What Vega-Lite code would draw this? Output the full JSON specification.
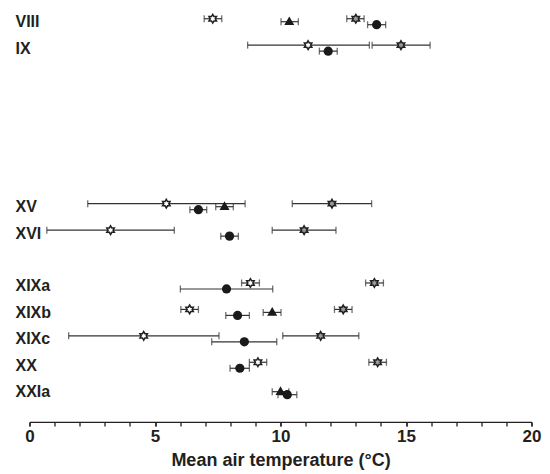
{
  "$schema": "https://vega.github.io/schema/vega-lite/v6.json",
  "autosize": {"type": "none"},
  "width": 502,
  "height": 396.4,
  "padding": {"left": 29.5, "top": 5.5, "right": 18.5, "bottom": 72.1},
  "config": {
    "view": {"stroke": null},
    "font": "Liberation Sans",
    "axisX": {
      "labelOverlap": false,
      "labelFlush": false,
      "grid": false,
      "domainColor": "#231f20",
      "domainWidth": 1.3,
      "tickColor": "#231f20",
      "tickWidth": 1.3,
      "tickSize": 4,
      "labelPadding": 3,
      "labelFont": "Liberation Sans",
      "labelFontWeight": "bold",
      "labelFontSize": 17,
      "labelColor": "#231f20",
      "titleFont": "Liberation Sans",
      "titleFontWeight": "bold",
      "titleFontSize": 18,
      "titleColor": "#231f20",
      "titlePadding": 7
    }
  },
  "resolve": {"axis": {"x": "independent"}},
  "data": {
    "values": [
      {"site": "VIII", "series": "open star", "mean": 7.3, "lo": 6.96, "hi": 7.66},
      {"site": "VIII", "series": "triangle", "mean": 10.35, "lo": 10.02, "hi": 10.71},
      {"site": "VIII", "series": "grey star", "mean": 13.0, "lo": 12.64, "hi": 13.33},
      {"site": "VIII", "series": "circle", "mean": 13.83, "lo": 13.47, "hi": 14.19},
      {"site": "IX", "series": "open star", "mean": 11.1, "lo": 8.69, "hi": 13.54},
      {"site": "IX", "series": "grey star", "mean": 14.8, "lo": 13.65, "hi": 15.96},
      {"site": "IX", "series": "circle", "mean": 11.9, "lo": 11.55, "hi": 12.26},
      {"site": "XV", "series": "open star", "mean": 5.45, "lo": 2.32, "hi": 8.59},
      {"site": "XV", "series": "circle", "mean": 6.73, "lo": 6.39, "hi": 7.06},
      {"site": "XV", "series": "triangle", "mean": 7.77, "lo": 7.42, "hi": 8.12},
      {"site": "XV", "series": "grey star", "mean": 12.05, "lo": 10.47, "hi": 13.63},
      {"site": "XVI", "series": "open star", "mean": 3.23, "lo": 0.69, "hi": 5.77},
      {"site": "XVI", "series": "circle", "mean": 7.97, "lo": 7.62, "hi": 8.32},
      {"site": "XVI", "series": "grey star", "mean": 10.94, "lo": 9.67, "hi": 12.21},
      {"site": "XIXa", "series": "open star", "mean": 8.8, "lo": 8.45, "hi": 9.16},
      {"site": "XIXa", "series": "circle", "mean": 7.85, "lo": 6.01, "hi": 9.69},
      {"site": "XIXa", "series": "grey star", "mean": 13.74, "lo": 13.39, "hi": 14.1},
      {"site": "XIXb", "series": "open star", "mean": 6.38, "lo": 6.03, "hi": 6.73},
      {"site": "XIXb", "series": "circle", "mean": 8.29, "lo": 7.82, "hi": 8.76},
      {"site": "XIXb", "series": "triangle", "mean": 9.67, "lo": 9.31, "hi": 10.02},
      {"site": "XIXb", "series": "grey star", "mean": 12.5, "lo": 12.15, "hi": 12.85},
      {"site": "XIXc", "series": "open star", "mean": 4.55, "lo": 1.56, "hi": 7.55},
      {"site": "XIXc", "series": "circle", "mean": 8.56, "lo": 7.26, "hi": 9.85},
      {"site": "XIXc", "series": "grey star", "mean": 11.6, "lo": 10.09, "hi": 13.12},
      {"site": "XX", "series": "open star", "mean": 9.1, "lo": 8.76, "hi": 9.45},
      {"site": "XX", "series": "circle", "mean": 8.38, "lo": 7.99, "hi": 8.76},
      {"site": "XX", "series": "grey star", "mean": 13.87, "lo": 13.52, "hi": 14.22},
      {"site": "XXIa", "series": "triangle", "mean": 10.0, "lo": 9.67, "hi": 10.33},
      {"site": "XXIa", "series": "circle", "mean": 10.27, "lo": 9.9, "hi": 10.65}
    ]
  },
  "encoding": {
    "y": {
      "field": "site",
      "type": "ordinal",
      "scale": {
        "type": "point",
        "padding": 0.5,
        "domain": ["VIII", "IX", "X", "XI", "XII", "XIII", "XIV", "XV", "XVI", "XVII", "XIXa", "XIXb", "XIXc", "XX", "XXIa"]
      },
      "axis": {
        "title": null,
        "domain": false,
        "ticks": false,
        "tickSize": 0,
        "grid": false,
        "labelAlign": "left",
        "labelPadding": 14.5,
        "labelOffset": 3,
        "labelFont": "Liberation Sans",
        "labelFontWeight": "bold",
        "labelFontSize": 16,
        "labelColor": "#231f20",
        "labelExpr": "indexof(['VIII','IX','XV','XVI','XIXa','XIXb','XIXc','XX','XXIa'], datum.value) >= 0 ? datum.value : ''"
      }
    }
  },
  "layer": [
    {
      "transform": [{"filter": {"field": "series", "oneOf": ["open star", "grey star"]}}],
      "mark": {"type": "rule", "color": "#333333", "strokeWidth": 1.2},
      "encoding": {
        "x": {
          "field": "lo",
          "type": "quantitative",
          "scale": {"domain": [0, 20], "nice": false},
          "axis": {
            "orient": "bottom",
            "title": null,
            "values": [0,1,2,3,4,5,6,7,8,9,10,11,12,13,14,15,16,17,18,19,20],
            "labels": false,
            "offset": 20
          }
        },
        "x2": {"field": "hi"}
      }
    },
    {
      "transform": [{"filter": "datum.series === 'triangle'"}],
      "mark": {"type": "rule", "color": "#333333", "strokeWidth": 1.2, "yOffset": 3},
      "encoding": {
        "x": {
          "field": "lo",
          "type": "quantitative",
          "axis": {
            "orient": "bottom",
            "title": "Mean air temperature (°C)",
            "values": [0, 5, 10, 15, 20],
            "domain": false,
            "offset": 20
          }
        },
        "x2": {"field": "hi"}
      }
    },
    {
      "transform": [{"filter": "datum.series === 'circle'"}],
      "mark": {"type": "rule", "color": "#333333", "strokeWidth": 1.2, "yOffset": 6},
      "encoding": {"x": {"field": "lo", "type": "quantitative", "axis": null}, "x2": {"field": "hi"}}
    },
    {
      "transform": [
        {"filter": {"field": "series", "oneOf": ["open star", "grey star"]}},
        {"fold": ["lo", "hi"], "as": ["end", "xv"]}
      ],
      "mark": {"type": "tick", "color": "#333333", "thickness": 1.3, "size": 7, "orient": "vertical"},
      "encoding": {"x": {"field": "xv", "type": "quantitative", "axis": null}}
    },
    {
      "transform": [
        {"filter": "datum.series === 'triangle'"},
        {"fold": ["lo", "hi"], "as": ["end", "xv"]}
      ],
      "mark": {"type": "tick", "color": "#333333", "thickness": 1.3, "size": 7, "orient": "vertical", "yOffset": 3},
      "encoding": {"x": {"field": "xv", "type": "quantitative", "axis": null}}
    },
    {
      "transform": [
        {"filter": "datum.series === 'circle'"},
        {"fold": ["lo", "hi"], "as": ["end", "xv"]}
      ],
      "mark": {"type": "tick", "color": "#333333", "thickness": 1.3, "size": 7, "orient": "vertical", "yOffset": 6},
      "encoding": {"x": {"field": "xv", "type": "quantitative", "axis": null}}
    },
    {
      "transform": [{"filter": "datum.series === 'open star'"}],
      "mark": {
        "type": "point",
        "shape": "M0,-1L0.289,-0.5L0.866,-0.5L0.577,0L0.866,0.5L0.289,0.5L0,1L-0.289,0.5L-0.866,0.5L-0.577,0L-0.866,-0.5L-0.289,-0.5Z",
        "size": 75,
        "filled": true,
        "fill": "#ffffff",
        "stroke": "#231f20",
        "strokeWidth": 1.5,
        "opacity": 1
      },
      "encoding": {"x": {"field": "mean", "type": "quantitative", "axis": null}}
    },
    {
      "transform": [{"filter": "datum.series === 'grey star'"}],
      "mark": {
        "type": "point",
        "shape": "M0,-1L0.289,-0.5L0.866,-0.5L0.577,0L0.866,0.5L0.289,0.5L0,1L-0.289,0.5L-0.866,0.5L-0.577,0L-0.866,-0.5L-0.289,-0.5Z",
        "size": 75,
        "filled": true,
        "fill": "#9a9a9a",
        "stroke": "#231f20",
        "strokeWidth": 1.5,
        "opacity": 1
      },
      "encoding": {"x": {"field": "mean", "type": "quantitative", "axis": null}}
    },
    {
      "transform": [{"filter": "datum.series === 'triangle'"}],
      "mark": {"type": "point", "shape": "triangle-up", "size": 100, "filled": true, "fill": "#1a1a1a", "opacity": 1, "yOffset": 2},
      "encoding": {"x": {"field": "mean", "type": "quantitative", "axis": null}}
    },
    {
      "transform": [{"filter": "datum.series === 'circle'"}],
      "mark": {"type": "point", "shape": "circle", "size": 85, "filled": true, "fill": "#1a1a1a", "opacity": 1, "yOffset": 6},
      "encoding": {"x": {"field": "mean", "type": "quantitative", "axis": null}}
    }
  ]
}
